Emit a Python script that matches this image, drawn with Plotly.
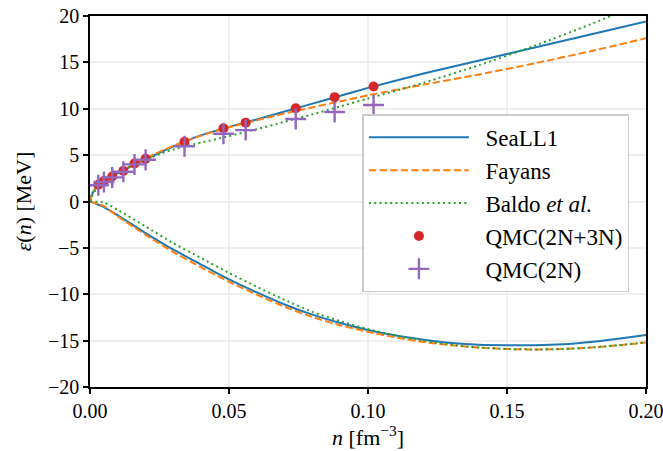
import plotly.graph_objects as go

# ---- data ----
# upper branch (pure neutron matter)
n_pnm = [0.0, 0.0005, 0.001, 0.002, 0.003, 0.005, 0.008, 0.012, 0.016, 0.02, 0.025,
         0.03, 0.04, 0.05, 0.06, 0.07, 0.08, 0.09, 0.10, 0.12, 0.14, 0.16, 0.18, 0.20]
seall1_pnm = [0.0, 0.6, 0.95, 1.45, 1.8, 2.25, 2.75, 3.35, 3.95, 4.55, 5.25,
              5.95, 7.15, 8.05, 8.85, 9.7, 10.55, 11.4, 12.25, 13.8, 15.2, 16.6, 18.0, 19.4]
fayans_pnm = [0.0, 0.5, 0.85, 1.4, 1.8, 2.3, 2.85, 3.45, 4.05, 4.65, 5.35,
              6.0, 7.1, 8.0, 8.75, 9.5, 10.15, 10.8, 11.45, 12.6, 13.7, 14.9, 16.2, 17.6]
baldo_pnm = [0.0, 0.4, 0.75, 1.25, 1.6, 2.1, 2.7, 3.4, 4.0, 4.5, 5.1,
             5.6, 6.35, 7.05, 7.8, 8.6, 9.4, 10.25, 11.1, 12.8, 14.7, 16.8, 19.1, 21.6]

# lower branch (symmetric nuclear matter)
n_snm = [0.0, 0.005, 0.01, 0.02, 0.03, 0.04, 0.05, 0.06, 0.07, 0.08, 0.09, 0.10,
         0.11, 0.12, 0.13, 0.14, 0.15, 0.16, 0.17, 0.18, 0.19, 0.20]
seall1_snm = [0.0, -0.6, -1.5, -3.4, -5.2, -6.8, -8.4, -9.8, -11.1, -12.2, -13.1, -13.85,
              -14.45, -14.9, -15.25, -15.45, -15.5, -15.5, -15.4, -15.15, -14.8, -14.4]
fayans_snm = [0.0, -0.5, -1.6, -3.6, -5.45, -7.1, -8.65, -10.05, -11.35, -12.45, -13.35, -14.05,
              -14.65, -15.15, -15.5, -15.75, -15.9, -15.95, -15.9, -15.75, -15.5, -15.2]
baldo_snm = [0.0, -0.1, -0.9, -2.7, -4.5, -6.1, -7.7, -9.2, -10.6, -11.9, -12.9, -13.75,
             -14.45, -15.0, -15.45, -15.75, -15.9, -15.95, -15.9, -15.75, -15.5, -15.2]

# QMC points
n_qmc = [0.003, 0.005, 0.008, 0.012, 0.016, 0.020, 0.034, 0.048, 0.056, 0.074, 0.088, 0.102]
qmc_2n3n = [1.8, 2.2, 2.7, 3.3, 4.1, 4.6, 6.45, 7.9, 8.5, 10.05, 11.25, 12.4]
qmc_2n3n_err = [0.02, 0.02, 0.03, 0.03, 0.04, 0.05, 0.08, 0.1, 0.12, 0.18, 0.22, 0.3]
qmc_2n = [1.75, 2.1, 2.6, 3.2, 4.0, 4.5, 5.95, 7.3, 7.7, 8.9, 9.65, 10.4]
qmc_2n_err = [0.02, 0.02, 0.02, 0.03, 0.03, 0.04, 0.05, 0.06, 0.07, 0.08, 0.1, 0.12]

x_ticks = [0.0, 0.05, 0.10, 0.15, 0.20]
y_ticks = [-20, -15, -10, -5, 0, 5, 10, 15, 20]

BLUE, ORANGE, GREEN, RED, PURPLE = "#1f77b4", "#ff7f0e", "#2ca02c", "#d62728", "#9467bd"
FONT = "Liberation Serif"
PAD = "&nbsp;&nbsp;"

fig = go.Figure()

def curve(x, y, color, dash, name, show, group):
    fig.add_trace(go.Scatter(
        x=x, y=y, mode="lines", name=name, showlegend=show, legendgroup=group,
        line=dict(color=color, width=2, dash=dash, shape="spline", smoothing=0.6),
    ))

curve(n_pnm, seall1_pnm, BLUE, "solid", PAD + "SeaLL1", True, "a")
curve(n_pnm, fayans_pnm, ORANGE, "7.4px,3.2px", PAD + "Fayans", True, "b")
curve(n_pnm, baldo_pnm, GREEN, "2px,3.3px", PAD + "Baldo <i>et al.</i>", True, "c")
curve(n_snm, seall1_snm, BLUE, "solid", "SeaLL1", False, "a")
curve(n_snm, fayans_snm, ORANGE, "7.4px,3.2px", "Fayans", False, "b")
curve(n_snm, baldo_snm, GREEN, "2px,3.3px", "Baldo", False, "c")

fig.add_trace(go.Scatter(
    x=n_qmc, y=qmc_2n3n, mode="markers", name=PAD + "QMC(2N+3N)", legendgroup="d",
    marker=dict(color=RED, size=10, symbol="circle"),
    error_y=dict(type="data", array=qmc_2n3n_err, color=RED, thickness=2, width=0),
))
fig.add_trace(go.Scatter(
    x=n_qmc, y=qmc_2n, mode="markers", name=PAD + "QMC(2N)", legendgroup="e",
    marker=dict(color=PURPLE, size=15, symbol="cross-thin",
                line=dict(color=PURPLE, width=2.4)),
    error_y=dict(type="data", array=qmc_2n_err, color=PURPLE, thickness=2, width=0),
))

axis_common = dict(
    showline=True, linecolor="black", linewidth=1.5, mirror=True,
    ticks="outside", ticklen=5, tickwidth=1.5, tickcolor="black",
    showgrid=True, gridcolor="#efefef", gridwidth=1.5, zeroline=False,
    automargin=False, ticklabeloverflow="allow",
    tickfont=dict(family=FONT, size=20, color="black"),
)

fig.update_layout(
    width=663, height=451,
    margin=dict(l=90, r=17, t=16, b=64),
    paper_bgcolor="white", plot_bgcolor="white",
    font=dict(family=FONT, size=20, color="black"),
    xaxis=dict(range=[0, 0.2], tickvals=x_ticks, tickformat=".2f",
               title=dict(text="<i>n</i> [fm<sup>−3</sup>]", standoff=4,
                          font=dict(family=FONT, size=22)),
               **axis_common),
    yaxis=dict(range=[-20, 20], tickvals=y_ticks,
               title=dict(text="<i>ε</i>(<i>n</i>) [MeV]", standoff=10,
                          font=dict(family=FONT, size=22)),
               **axis_common),
    legend=dict(
        x=0.49, y=0.735, xanchor="left", yanchor="top",
        bgcolor="rgba(255,255,255,0.85)", bordercolor="#cccccc", borderwidth=1.5,
        font=dict(family=FONT, size=23, color="black"),
        itemwidth=100, traceorder="grouped", tracegroupgap=0,
    ),
)

fig.write_html("out.html")
